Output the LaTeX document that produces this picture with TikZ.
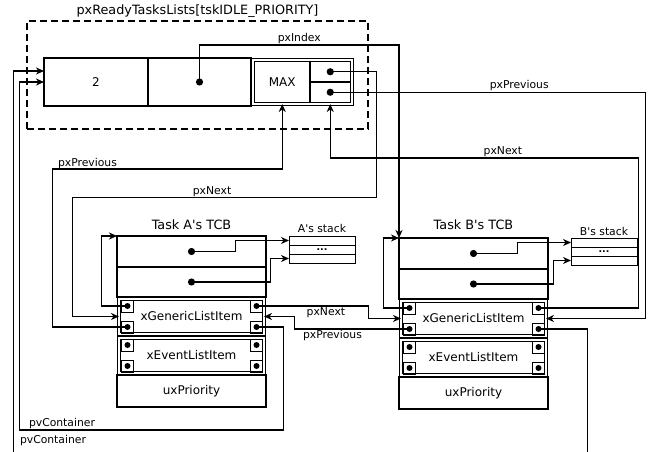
\documentclass[tikz,border=0pt]{standalone}
\usepackage{fontspec}
\setmainfont{DejaVu Sans}
\usetikzlibrary{positioning, arrows.meta}

\begin{document}
\begin{tikzpicture}[x=1pt, y=-1pt, line width=1.2pt, ->, >={Stealth[length=8pt,width=7pt,inset=2.5pt]},
	font=\fontsize{12}{14}\selectfont,
	every node/.style={outer sep=0pt},
	cell/.style={draw, inner sep=0pt, minimum height=48pt},
	row/.style={draw, inner sep=0pt, minimum width=149pt},
	lstitem/.style={draw, double, double distance=1.8pt, inner sep=0pt, minimum width=145pt, minimum height=35pt},
	slot/.style={draw, line width=0.8pt, inner sep=0pt, minimum size=12pt},
	stk/.style={draw, line width=0.9pt, inner sep=0pt, minimum width=66pt, minimum height=9pt},
	ttl/.style={font=\fontsize{12.8}{14}\selectfont, inner sep=3pt},
	lbl/.style={font=\fontsize{10.8}{12}\selectfont, inner sep=1.5pt}]

\path[use as bounding box, clip] (0,0) rectangle (648,452);

\node[draw, dash pattern=on 7pt off 4pt, minimum width=341pt, minimum height=108pt] (rl) at (197.5,75) {};
\node[ttl] 	(rltitle) 	[above=0pt of rl] 	{pxReadyTasksLists[tskIDLE\_PRIORITY]};
\node[cell, minimum width=104pt] 	(cnt) 	at (96,82) 		{2};
\node[cell, minimum width=103pt] 	(idx) 	[right=0pt of cnt] 	{};
\node[draw, double, double distance=1.8pt, minimum width=99pt, minimum height=44pt] 	(lend) 	at (302.5,82) 	{};
\node[inner sep=0pt, minimum width=55.5pt, minimum height=41pt] 	(max) 	at (282.25,82) 	{MAX};
\node[draw, inner sep=0pt, minimum width=40.5pt, minimum height=20.5pt] 	(nxt) 	at (330.25,71.75) 	{};
\node[draw, inner sep=0pt, minimum width=40.5pt, minimum height=20.5pt] 	(prv) 	[below=0pt of nxt] 	{};

\node[row, minimum height=31pt] 	(a1) 	at (191.5,251.5) 		{};
\node[row, minimum height=30pt] 	(a2) 	[below=0pt of a1] 	{};
\node[lstitem] 	(agen) 	[below=2pt of a2] 	{xGenericListItem};
\node[lstitem] 	(aevt) 	[below=4pt of agen] 	{xEventListItem};
\node[row, minimum height=32pt] 	(aprio) 	[below=2pt of aevt] 	{uxPriority};
\node[ttl] 	(atitle) 	[above=3pt of a1] 	{Task A\textquotesingle s TCB};

\node[row, minimum height=31pt] 	(b1) 	at (473.5,253.5) 		{};
\node[row, minimum height=30pt] 	(b2) 	[below=0pt of b1] 	{};
\node[lstitem] 	(bgen) 	[below=2pt of b2] 	{xGenericListItem};
\node[lstitem] 	(bevt) 	[below=4pt of bgen] 	{xEventListItem};
\node[row, minimum height=32pt] 	(bprio) 	[below=2pt of bevt] 	{uxPriority};
\node[ttl] 	(btitle) 	[above=5pt of b1] 	{Task B\textquotesingle s TCB};

\node[stk] 	(as1) 	at (322,240.5) 	{};
\node[stk, font=\bfseries\fontsize{9.5}{9.5}\selectfont] 	(as2) 	[below=0pt of as1] 	{...};
\node[stk] 	(as3) 	[below=0pt of as2] 	{};
\node[lbl] 	(aslbl) 	[above=1.5pt of as1] 	{A\textquotesingle s stack};

\node[stk] 	(bs1) 	at (604,242.5) 	{};
\node[stk, font=\bfseries\fontsize{9.5}{9.5}\selectfont] 	(bs2) 	[below=0pt of bs1] 	{...};
\node[stk] 	(bs3) 	[below=0pt of bs2] 	{};
\node[lbl] 	(bslbl) 	[above=1pt of bs1] 	{B\textquotesingle s stack};

\foreach \itm in {agen,aevt,bgen,bevt}{
	\node[slot] (\itm UL) at ([shift={(8.5,7)}]\itm.north west) {};
	\node[slot] (\itm LL) at ([shift={(8.5,-7)}]\itm.south west) {};
	\node[slot] (\itm UR) at ([shift={(-7.5,7)}]\itm.north east) {};
	\node[slot] (\itm LR) at ([shift={(-7.5,-7)}]\itm.south east) {};
	\foreach \c in {UL,LL,UR,LR} \fill (\itm\c.center) circle (3pt);
}
\foreach \d in {idx,nxt,prv,a1,a2,b1,b2} \fill (\d.center) circle (3.6pt);

\draw (idx.center) -- ++(0,-37) -| node[lbl, pos=0.25, above] {pxIndex} (b1.north west);
\draw (nxt.center) -- ++(46,0) -- ++(0,126) -- node[lbl, above, pos=0.54] {pxNext} ++(-304,0) |- (agen.west);
\draw (prv.center) -- node[lbl, above, pos=0.6] {pxPrevious} ++(315,0) |- (bgen.east);
\draw (bgenUR.center) -- ++(100,0) -- ++(0,-150) -| node[lbl, above, pos=0.22] {pxNext} (prv.south |- lend.south);
\draw (agenLL.center) -- ++(-75,0) -- ++(0,-158) node[lbl, above right, xshift=5pt, inner sep=0.5pt] {pxPrevious} -| (max.south |- lend.south);
\draw (agenUR.center) -- node[lbl, below, pos=0.62] {pxNext} ++(112,0) |- (bgen.west);
\draw (bgenLL.center) -- node[lbl, below, pos=0.67] {pxPrevious} ++(-115,0) |- (agen.east);
\draw (agenUL.center) -- ++(-26,0) |- (a1.north west);
\draw (bgenUL.center) -- ++(-26,0) |- (b1.north west);
\draw (agenLR.center) -- ++(27,0) -- ++(0,103) -- ++(-264,0) node[lbl, above right, xshift=8pt] {pvContainer} |- (cnt.west);
\draw (bgenLR.center) -- ++(49,0) -- ++(0,129) -- ++(-574,0) node[lbl, above right, xshift=5pt, yshift=11pt] {pvContainer} |- ([yshift=11pt]cnt.west);
\draw (a1.center) -- ++(44,0) |- (as1.west);
\draw (a2.center) -- ++(79,0) |- (as3.west);
\draw (b1.center) -- ++(44,0) |- (bs1.west);
\draw (b2.center) -- ++(80,0) |- (bs3.west);

\end{tikzpicture}
\end{document}
